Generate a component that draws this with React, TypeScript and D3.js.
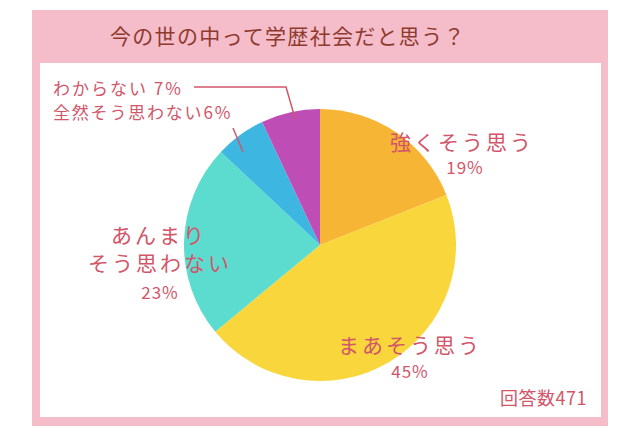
import React from "react";
import * as d3 from "d3";

const categories = ["強くそう思う", "まあそう思う", "あんまりそう思わない", "全然そう思わない", "わからない"];
const values = [19, 45, 23, 6, 7];
const colors = ["#F7B536", "#F9D63C", "#5CDCCF", "#3DB7E2", "#BE4EB6"];
const title = "今の世の中って学歴社会だと思う？";
const footnote = "回答数471";

const W = 640, H = 426;
const cx = 320, cy = 245, R = 136;
const labelColor = "#D2566A";
const font = "'Noto Sans CJK JP', 'Noto Sans', sans-serif";

export default function App() {
  const pie = d3.pie<number>().sort(null).value((d) => d)(values);
  const arc = d3.arc<d3.PieArcDatum<number>>().innerRadius(0).outerRadius(R);
  return (
    <svg width={W} height={H} style={{ position: "absolute", left: 0, top: 0, background: "#fff" }} fontFamily={font}>
      <rect x={32} y={10} width={576} height={430} fill="#F5BCCA" />
      <rect x={40} y={63} width={561} height={354} fill="#FFFFFF" />
      <text x={110} y={44} fontSize={21} letterSpacing={1.3} fill="#8E3A2E">{title}</text>
      <g transform={`translate(${cx},${cy})`}>
        {pie.map((p, i) => (
          <path key={i} d={arc(p) || ""} fill={colors[i]} />
        ))}
      </g>
      <g fill={labelColor} textAnchor="middle">
        <text x={462} y={150} fontSize={21} letterSpacing={3}>{categories[0]}</text>
        <text x={465} y={174} fontSize={17} letterSpacing={1}>{values[0]}%</text>
        <text x={410} y={353} fontSize={21} letterSpacing={3}>{categories[1]}</text>
        <text x={410} y={378} fontSize={17} letterSpacing={1}>{values[1]}%</text>
        <text x={159} y={243} fontSize={21} letterSpacing={3}>あんまり</text>
        <text x={160} y={271} fontSize={21} letterSpacing={3}>そう思わない</text>
        <text x={160} y={299} fontSize={17} letterSpacing={1}>{values[2]}%</text>
      </g>
      <g fill={labelColor} fontSize={17}>
        <text x={53} y={95} letterSpacing={2}>{categories[4]} {values[4]}%</text>
        <text x={53} y={119} letterSpacing={1.8}>{categories[3]}{values[3]}%</text>
        <text x={587} y={405} textAnchor="end" fontSize={18} letterSpacing={0.5}>{footnote}</text>
      </g>
      <polyline points="194,87 286,87 295,118" fill="none" stroke={labelColor} strokeWidth={1.5} />
      <line x1={233} y1={128} x2={243} y2={152} stroke={labelColor} strokeWidth={1.5} />
    </svg>
  );
}
